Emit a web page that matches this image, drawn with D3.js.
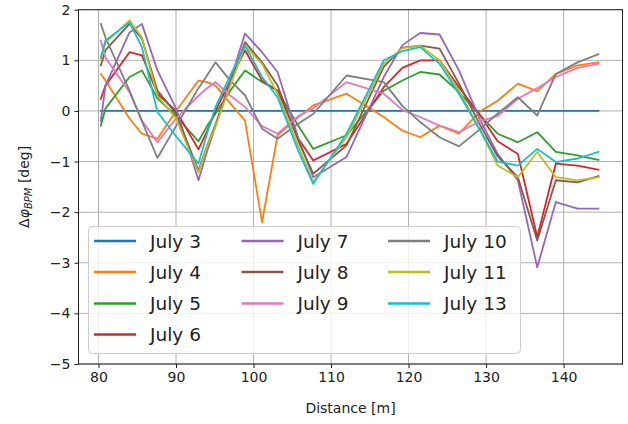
<!DOCTYPE html>
<html>
<head>
<meta charset="utf-8">
<script src="https://cdn.jsdelivr.net/npm/d3@7"></script>
<style>
  html, body { margin: 0; padding: 0; background: #fff; }
  svg { display: block; font-family: "DejaVu Sans", sans-serif; }
</style>
</head>
<body>
<svg id="chart" width="628" height="424"></svg>
<script>
// BPM positions along the line [m]
const distance = [80.3, 80.9, 84.0, 85.6, 87.6, 90.0, 92.9, 94.0, 95.1, 97.0, 98.9, 101.1, 103.1, 105.8,
                  107.7, 112.0, 116.8, 119.2, 121.5, 124.0, 126.5, 129.3, 131.5, 134.1, 136.6, 139.0, 141.8, 144.5];

// Phase difference per day [deg]
const july3  = distance.map(() => 0);
const july4  = [0.73, 0.6, -0.15, -0.45, -0.55, 0.0, 0.6, 0.57, 0.5, 0.15, -0.19, -2.2, -0.48, -0.12, 0.11, 0.34, -0.12, -0.39, -0.52, -0.29, -0.45, 0.0, 0.2, 0.54, 0.39, 0.73, 0.9, 0.96];
const july5  = [-0.29, 0.05, 0.67, 0.8, 0.25, -0.1, -0.6, -0.3, -0.05, 0.4, 0.8, 0.57, 0.4, -0.3, -0.75, -0.48, 0.4, 0.6, 0.77, 0.72, 0.37, -0.1, -0.45, -0.62, -0.42, -0.81, -0.88, -0.97];
const july6  = [0.24, 0.5, 1.16, 1.1, 0.34, 0.0, -0.76, -0.4, 0.0, 0.6, 1.2, 0.6, 0.4, -0.55, -0.98, -0.65, 0.47, 0.85, 1.0, 1.0, 0.47, -0.1, -0.6, -0.85, -2.49, -1.04, -1.08, -1.16];
const july7  = [-0.2, 0.5, 1.55, 1.72, 0.8, 0.05, -1.37, -0.8, -0.3, 0.6, 1.53, 1.16, 0.77, -0.55, -1.31, -0.91, 0.67, 1.3, 1.54, 1.51, 0.8, -0.2, -0.85, -1.37, -3.09, -1.8, -1.93, -1.93];
const july8  = [0.9, 1.2, 1.72, 1.43, 0.4, -0.05, -1.18, -0.69, -0.26, 0.55, 1.36, 0.96, 0.5, -0.6, -1.24, -0.68, 0.87, 1.25, 1.29, 1.23, 0.54, -0.3, -0.9, -1.31, -2.56, -1.37, -1.41, -1.29];
const july9  = [1.39, 1.05, 0.37, -0.19, -0.62, -0.15, 0.3, 0.45, 0.57, 0.3, 0.08, -0.3, -0.45, -0.1, 0.05, 0.57, 0.34, 0.02, -0.12, -0.29, -0.42, -0.2, -0.1, 0.24, 0.45, 0.67, 0.85, 0.93];
const july10 = [1.72, 1.45, 0.4, -0.2, -0.93, -0.3, 0.45, 0.7, 0.96, 0.6, 0.31, -0.35, -0.55, -0.25, -0.06, 0.7, 0.57, 0.1, -0.22, -0.52, -0.7, -0.35, -0.05, 0.27, -0.09, 0.73, 0.96, 1.12];
const july11 = [1.0, 1.35, 1.79, 1.45, 0.3, -0.15, -1.22, -0.7, -0.3, 0.5, 1.29, 0.93, 0.34, -0.7, -1.41, -0.52, 0.93, 1.24, 1.29, 1.0, 0.4, -0.4, -1.08, -1.31, -0.81, -1.31, -1.37, -1.31];
const july13 = [1.06, 1.39, 1.75, 1.26, -0.02, -0.5, -1.04, -0.45, 0.08, 0.7, 1.29, 0.67, 0.27, -0.8, -1.44, -0.45, 1.0, 1.18, 1.26, 0.93, 0.34, -0.4, -1.0, -1.08, -0.75, -1.01, -0.94, -0.81];

const seriesNames = ["July 3", "July 4", "July 5", "July 6", "July 7", "July 8", "July 9", "July 10", "July 11", "July 13"];
const seriesValues = [july3, july4, july5, july6, july7, july8, july9, july10, july11, july13];
const colors = ["#1f77b4", "#ff7f0e", "#2ca02c", "#d62728", "#9467bd", "#8c564b", "#e377c2", "#7f7f7f", "#bcbd22", "#17becf"];

const xTicks = [80, 90, 100, 110, 120, 130, 140];
const yTicks = [-5, -4, -3, -2, -1, 0, 1, 2];

const svg = d3.select("#chart");
const plotL = 78.5, plotR = 622.5, plotT = 9.7, plotB = 364;

const x = d3.scaleLinear().domain([77.42, 147.6]).range([plotL, plotR]);
const y = d3.scaleLinear().domain([-5, 2]).range([plotB, plotT]);

// grid
const grid = svg.append("g");
grid.selectAll("line.gx").data(xTicks).join("line")
  .attr("class", "gx")
  .attr("x1", d => x(d)).attr("x2", d => x(d))
  .attr("y1", plotT).attr("y2", plotB)
  .attr("stroke", "#b0b0b0").attr("stroke-width", 1);
grid.selectAll("line.gy").data(yTicks).join("line")
  .attr("class", "gy")
  .attr("y1", d => y(d)).attr("y2", d => y(d))
  .attr("x1", plotL).attr("x2", plotR)
  .attr("stroke", "#b0b0b0").attr("stroke-width", 1);

// series lines
const line = d3.line().x((d, i) => x(distance[i])).y(d => y(d));
svg.append("g")
  .selectAll("path").data(seriesValues).join("path")
  .attr("d", d => line(d))
  .attr("fill", "none")
  .attr("stroke", (d, i) => colors[i])
  .attr("stroke-width", 1.8)
  .attr("stroke-linejoin", "round")
  .attr("stroke-linecap", "square");

// axes
const fmt = d => d < 0 ? "\u2212" + Math.abs(d) : String(d);
const xAxis = svg.append("g").attr("transform", `translate(0,${plotB})`)
  .call(d3.axisBottom(x).tickValues(xTicks).tickSize(4).tickPadding(4).tickFormat(fmt));
const yAxis = svg.append("g").attr("transform", `translate(${plotL},0)`)
  .call(d3.axisLeft(y).tickValues(yTicks).tickSize(4).tickPadding(4).tickFormat(fmt));
[xAxis, yAxis].forEach(a => {
  a.select(".domain").remove();
  a.selectAll("line").attr("stroke", "#000").attr("stroke-width", 0.9);
  a.selectAll("text").attr("font-size", 14).attr("fill", "#222").attr("font-family", "DejaVu Sans");
});

// frame
svg.append("rect").attr("x", plotL).attr("y", plotT)
  .attr("width", plotR - plotL).attr("height", plotB - plotT)
  .attr("fill", "none").attr("stroke", "#222").attr("stroke-width", 1);

// axis labels
svg.append("text").attr("x", (plotL + plotR) / 2).attr("y", 413)
  .attr("text-anchor", "middle").attr("font-size", 14).attr("fill", "#222")
  .text("Distance [m]");

const yl = svg.append("text")
  .attr("transform", `translate(29,${(plotT + plotB) / 2}) rotate(-90)`)
  .attr("text-anchor", "middle").attr("font-size", 14).attr("fill", "#222");
yl.append("tspan").text("\u0394");
yl.append("tspan").attr("font-style", "italic").text("\u03c6");
yl.append("tspan").attr("font-style", "italic").attr("font-size", 10).attr("dy", 3).text("BPM");
yl.append("tspan").attr("dy", -3).text(" [deg]");

// legend
const lg = svg.append("g");
lg.append("rect").attr("x", 88.5).attr("y", 226.5).attr("width", 432).attr("height", 127)
  .attr("rx", 4).attr("fill", "#fff").attr("fill-opacity", 0.8)
  .attr("stroke", "#ccc").attr("stroke-width", 1);
const colX = [94, 241.5, 388];
const rowY = [241, 272, 303.5, 334.5];
seriesNames.forEach((name, i) => {
  const c = i < 4 ? 0 : (i < 7 ? 1 : 2);
  const r = i < 4 ? i : (i < 7 ? i - 4 : i - 7);
  const gx = colX[c], gy = rowY[r];
  lg.append("line").attr("x1", gx).attr("x2", gx + 42).attr("y1", gy).attr("y2", gy)
    .attr("stroke", colors[i]).attr("stroke-width", 2.5);
  lg.append("text").attr("x", gx + 56).attr("y", gy + 6.5)
    .attr("font-size", 18.5).attr("fill", "#222").text(name);
});
</script>
</body>
</html>
